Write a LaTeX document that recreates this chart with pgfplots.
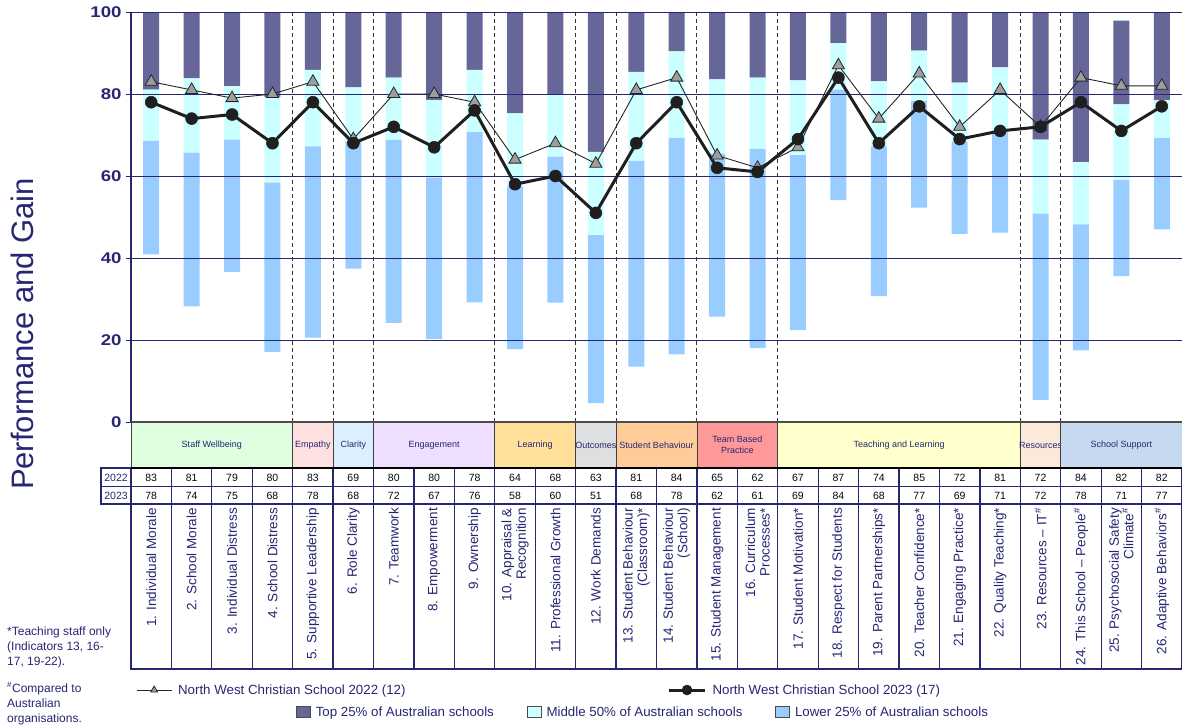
\documentclass[border=0pt]{standalone}
\usepackage{fontspec}
\setmainfont{Liberation Sans}
\newfontfamily\tickfont[FakeStretch=1.2]{Liberation Sans}
\usepackage{pgfplots}
\usepackage{pgfplotstable}
\pgfplotsset{compat=1.18}

\definecolor{navy}{HTML}{262673}
\definecolor{lblue}{HTML}{99CCFF}
\definecolor{mcyan}{HTML}{CCFFFF}
\definecolor{tpurple}{HTML}{666699}
\definecolor{cSW}{HTML}{E0FFE0}
\definecolor{cEmp}{HTML}{FFE0E0}
\definecolor{cCla}{HTML}{DDEEFF}
\definecolor{cEng}{HTML}{EEDEFF}
\definecolor{cLea}{HTML}{FFDF99}
\definecolor{cOut}{HTML}{DEDFE0}
\definecolor{cStu}{HTML}{FFCC99}
\definecolor{cTea}{HTML}{FF9999}
\definecolor{cTaL}{HTML}{FFFFCC}
\definecolor{cRes}{HTML}{FCE9DA}
\definecolor{cSch}{HTML}{C6D9F1}

% min = bottom of lower 25%, q1/q3 = quartiles, max = top of top 25%
\pgfplotstableread{
i  min  q1   q3   max   y22 y23
1  40.9 68.6 81.1 100   83  78
2  28.2 65.7 83.8 100   81  74
3  36.6 68.9 81.9 100   79  75
4  17.1 58.4 79.3 100   80  68
5  20.6 67.2 85.9 100   83  78
6  37.4 68.2 81.6 100   69  68
7  24.2 68.8 84.0 100   80  72
8  20.2 59.6 78.5 100   80  67
9  29.2 70.7 85.9 100   78  76
10 17.8 57.5 75.3 100   64  58
11 29.1 64.7 80.0 100   68  60
12 4.6  45.6 65.9 100   63  51
13 13.5 63.7 85.4 100   81  68
14 16.5 69.3 90.4 100   84  78
15 25.7 65.4 83.6 100   65  62
16 18.0 66.6 84.0 100   62  61
17 22.4 65.1 83.3 100   67  69
18 54.1 81.1 92.4 100   87  84
19 30.7 67.2 83.1 100   74  68
20 52.3 78.3 90.6 100   85  77
21 45.9 68.4 82.8 100   72  69
22 46.2 71.1 86.5 100   81  71
23 5.4  50.8 68.9 100   72  72
24 17.5 48.2 63.4 100   84  78
25 35.6 59.0 77.5 97.9  82  71
26 47.0 69.3 78.5 100   82  77
}\data

\pgfplotsset{
  common/.style={
    at={(131pt,-422pt)}, anchor=south west,
    width=1051pt, height=410pt, scale only axis,
    xmin=0.5, xmax=26.5, ymin=0, ymax=100,
  },
  boxleg/.style={legend image code/.code={%
    \draw[##1, draw=black!70, line width=0.6pt] (0pt,-5.5pt) rectangle (14pt,5.5pt);}},
  leg22/.style={legend image code/.code={%
    \draw[mark repeat=2, mark phase=2, ##1, mark size=4pt]
      plot coordinates {(0pt,0pt) (17.5pt,0pt) (35pt,0pt)};}},
  leg23/.style={legend image code/.code={%
    \draw[mark repeat=2, mark phase=2, ##1, mark size=5pt]
      plot coordinates {(0pt,0pt) (18pt,0pt) (36pt,0pt)};}},
}

\begin{document}
\begin{tikzpicture}
\useasboundingbox (0,0) rectangle (1182pt,-724pt);

% bars
\begin{axis}[
    common,
    ybar stacked,
    bar width=16pt,
    axis on top,
    axis x line=none,
    axis y line*=left,
    y axis line style={navy, line width=1.5pt},
    ytick={0,20,...,100},
    tick align=outside,
    major tick length=5pt,
    ytick style={navy, line width=1pt},
    yticklabel style={font=\fontsize{15.5}{15.5}\tickfont\bfseries, text=navy, xshift=-1pt},
    /pgf/number format/assume math mode=true,
    ymajorgrids,
    major grid style={navy, line width=0.8pt},
    reverse legend,
    legend columns=3,
    legend style={at={(0.1541,-0.7073)}, anchor=west, draw=none, fill=none,
      font=\fontsize{13.3}{14}\selectfont, text=navy,
      nodes={inner sep=0pt},
      /tikz/every odd column/.append style={column sep=5pt},
      /tikz/every even column/.append style={column sep=33pt}},
    boxleg,
]
\addplot[draw=none, fill=none, forget plot] table[x=i, y=min] {\data};
\addplot[fill=lblue, draw=none] table[x=i, y expr=\thisrow{q1}-\thisrow{min}] {\data};
\addlegendentry{Lower 25\% of Australian schools}
\addplot[fill=mcyan, draw=none] table[x=i, y expr=\thisrow{q3}-\thisrow{q1}] {\data};
\addlegendentry{Middle 50\% of Australian schools}
\addplot[fill=tpurple, draw=none] table[x=i, y expr=\thisrow{max}-\thisrow{q3}] {\data};
\addlegendentry{Top 25\% of Australian schools}
% group separators
\pgfplotsinvokeforeach{4.5,5.5,6.5,9.5,11.5,12.5,14.5,16.5,22.5,23.5}{
  \draw[black!80, line width=0.9pt, dash pattern=on 4pt off 3pt] (axis cs:#1,0) -- (axis cs:#1,100);
}
\draw[navy, line width=2pt] (axis cs:0.5,100) -- (axis cs:26.5,100);
\end{axis}

% school lines
\begin{axis}[
    common,
    hide axis,
    clip=false,
    legend columns=2,
    legend style={at={(0.0019,-0.6537)}, anchor=west, draw=none, fill=none,
      font=\fontsize{13.3}{14}\selectfont, text=navy,
      nodes={inner sep=0pt},
      /tikz/every odd column/.append style={column sep=6pt},
      /tikz/every even column/.append style={column sep=262pt}},
]
\addplot[black!85, line width=0.9pt, mark=triangle*, mark size=7pt,
  mark options={fill=black!38, draw=black!85, line width=0.8pt}, leg22]
  table[x=i, y=y22] {\data};
\addlegendentry{North West Christian School 2022 (12)}
\addplot[black!88, line width=3pt, mark=*, mark size=6pt,
  mark options={fill=black!88, draw=black!88, line width=0.5pt}, leg23]
  table[x=i, y=y23] {\data};
\addlegendentry{North West Christian School 2023 (17)}
\end{axis}

% y label
\node[rotate=90, font=\fontsize{31}{31}\selectfont, text=navy] at (22pt,-334pt) {Performance and Gain};

% category band, value table and indicator names
\begin{scope}[x=40.423pt, y=-1pt, shift={(131pt,0pt)}]
\foreach \a/\b/\c/\t in {1/4/cSW/{Staff Wellbeing}, 5/5/cEmp/{Empathy}, 6/6/cCla/{Clarity},
    7/9/cEng/{Engagement}, 10/11/cLea/{Learning}, 12/12/cOut/{Outcomes},
    13/14/cStu/{Student Behaviour}, 15/16/cTea/{Team Based\\Practice},
    17/22/cTaL/{Teaching and Learning}, 23/23/cRes/{Resources}, 24/26/cSch/{School Support}}{
  \fill[\c] (\a-1,422) rectangle (\b,468);
  \draw[black!75, line width=0.8pt] (\a-1,422) rectangle (\b,468);
  \node[font=\fontsize{9}{10.5}\selectfont, text=navy, align=center, inner sep=0pt]
    at ({(\a-1+\b)/2},445) {\t};
}
\draw[black!70, line width=1.4pt] (0,422) -- (26,422);
% table
\draw[navy, line width=1.3pt] (0,468) rectangle (26,669);
\draw[navy, line width=1.3pt] (-0.742,468) rectangle (0,504);
\draw[navy, line width=1.3pt] (-0.742,486.7) -- (26,486.7);
\draw[navy, line width=1.3pt] (0,504) -- (26,504);
\foreach \k in {1,...,25} \draw[navy, line width=1.3pt] (\k,468) -- (\k,669);
\draw[black, line width=2pt] (0,468) -- (26,468);
\node[font=\fontsize{10.5}{11}\selectfont, text=navy] at (-0.371,477.5) {2022};
\node[font=\fontsize{10.5}{11}\selectfont, text=navy] at (-0.371,495.5) {2023};
\foreach \k in {0,...,25}{
  \pgfplotstablegetelem{\k}{y22}\of\data
  \node[font=\fontsize{10.5}{11}\selectfont, text=black!85!navy] at (\k+0.5,477.5) {\pgfplotsretval};
  \pgfplotstablegetelem{\k}{y23}\of\data
  \node[font=\fontsize{10.5}{11}\selectfont, text=black!85!navy] at (\k+0.5,495.5) {\pgfplotsretval};
}
\foreach \k/\t in {1/{1. Individual Morale}, 2/{2. School Morale}, 3/{3. Individual Distress},
    4/{4. School Distress}, 5/{5. Supportive Leadership}, 6/{6. Role Clarity},
    7/{7. Teamwork}, 8/{8. Empowerment}, 9/{9. Ownership},
    10/{10. Appraisal \&\\Recognition}, 11/{11. Professional Growth}, 12/{12. Work Demands},
    13/{13. Student Behaviour\\(Classroom)*}, 14/{14. Student Behaviour\\(School)},
    15/{15. Student Management}, 16/{16. Curriculum\\Processes*},
    17/{17. Student Motivation*}, 18/{18. Respect for Students},
    19/{19. Parent Partnerships*}, 20/{20. Teacher Confidence*},
    21/{21. Engaging Practice*}, 22/{22. Quality Teaching*},
    23/{23. Resources – IT\textsuperscript{\#}}, 24/{24. This School – People\textsuperscript{\#}},
    25/{25. Psychosocial Safety\\Climate\textsuperscript{\#}}, 26/{26. Adaptive Behaviors\textsuperscript{\#}}}{
  \node[rotate=90, anchor=east, align=right, inner sep=0pt,
    font=\fontsize{13.5}{14.5}\selectfont, text=navy] at (\k-0.5,508) {\t};
}
\end{scope}

% footnotes
\node[anchor=north west, align=left, inner sep=0pt, font=\fontsize{12}{15}\selectfont, text=navy]
  at (7pt,-627pt) {*Teaching staff only\\(Indicators 13, 16-\\17, 19-22).};
\node[anchor=north west, align=left, inner sep=0pt, font=\fontsize{12}{15}\selectfont, text=navy]
  at (7pt,-682pt) {\textsuperscript{\#}Compared to\\Australian\\organisations.};
\end{tikzpicture}
\end{document}
